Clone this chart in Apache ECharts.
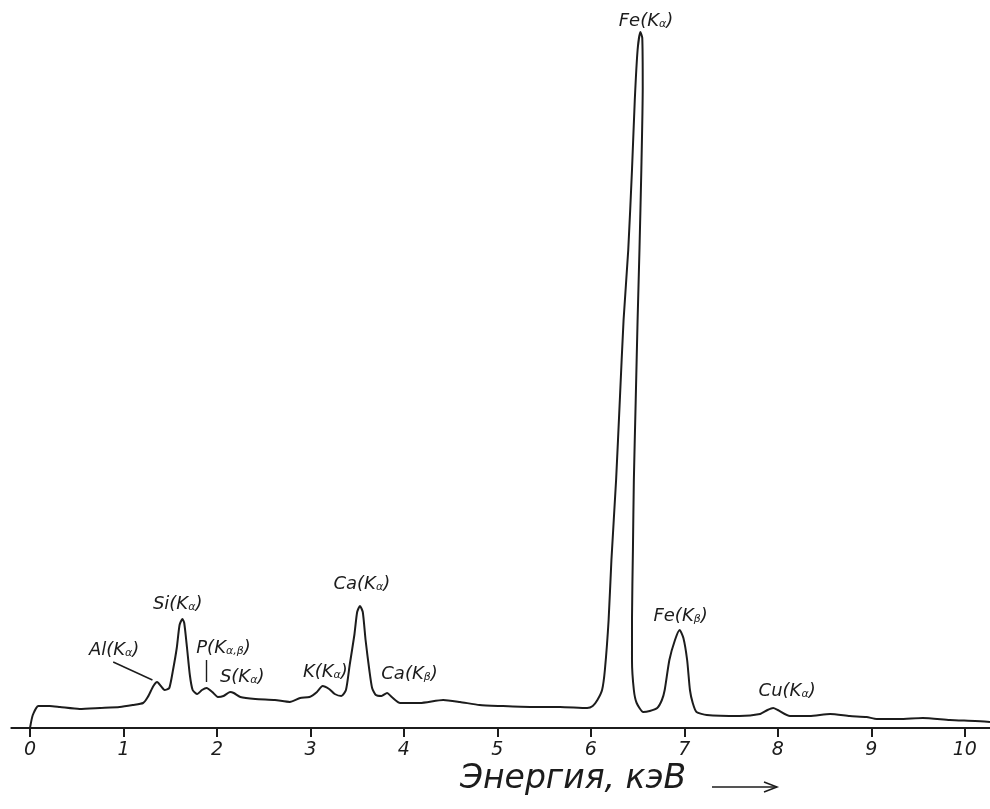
<!DOCTYPE html>
<html>
<head>
<meta charset="utf-8">
<script src="https://cdn.jsdelivr.net/npm/echarts@6/dist/echarts.min.js"></script>
<style>html,body{margin:0;padding:0;background:#fff}#c{width:990px;height:809px}</style>
</head>
<body>
<div id="c"></div>
<script>
// Energy (keV) and intensity (arbitrary units)
const energy = [0.00,0.03,0.09,0.21,0.32,0.53,0.75,0.96,1.10,1.21,1.26,1.32,1.36,1.40,1.44,1.49,1.53,1.57,1.60,1.63,1.65,1.68,1.71,1.74,1.79,1.84,1.89,1.95,2.01,2.07,2.14,2.18,2.25,2.41,2.62,2.78,2.89,2.99,3.07,3.13,3.20,3.26,3.33,3.38,3.42,3.47,3.50,3.53,3.56,3.59,3.63,3.66,3.70,3.76,3.82,3.87,3.96,4.17,4.42,4.60,4.81,5.03,5.35,5.67,5.96,6.02,6.07,6.12,6.15,6.19,6.22,6.27,6.31,6.35,6.40,6.44,6.47,6.50,6.53,6.55,6.555,6.54,6.52,6.50,6.48,6.46,6.45,6.44,6.44,6.46,6.49,6.56,6.63,6.71,6.76,6.79,6.84,6.90,6.95,6.99,7.03,7.06,7.09,7.13,7.24,7.59,7.81,7.89,7.95,8.00,8.13,8.34,8.56,8.77,8.95,9.06,9.30,9.55,9.84,10.11,10.27];
const counts = [0,13,22,22,21,19,20,21,23,25,31,42,46,42,38,40,58,80,103,109,105,80,53,38,34,38,40,36,31,32,36,35,31,29,28,26,30,31,36,42,39,34,32,38,63,93,116,122,116,88,58,40,33,32,35,31,25,25,28,26,23,22,21,21,20,22,28,38,58,108,168,248,328,408,478,558,628,678,696,690,640,558,478,408,328,248,178,108,68,38,25,16,17,20,28,38,68,88,98,90,68,38,25,16,13,12,14,18,20,18,12,12,14,12,11,9,9,10,8,7,6];

// Tick labels of the energy axis
const tickValues = [0,1,2,3,4,5,6,7,8,9,10];

// Peak annotations: element line, label anchor energy and height
const peakNames   = ['Fe(K{s|α})','Si(K{s|α})','Al(K{s|α})','P(K{s|α,β})','S(K{s|α})','K(K{s|α})','Ca(K{s|α})','Ca(K{s|β})','Fe(K{s|β})','Cu(K{s|α})'];
const peakEnergy  = [6.59,1.58,0.90,2.07,2.27,3.16,3.55,4.06,6.96,8.10];
const peakLabelY  = [707,124,78,80,51,56,144,54,112,37];

// Leader lines (Al and P)
const leaders = [[[0.89,66],[1.31,48]],[[1.89,68],[1.89,46]]];

const ink = '#1c1c1c';
const chart = echarts.init(document.getElementById('c'), null, {renderer:'canvas'});

chart.setOption({
  backgroundColor:'#ffffff',
  animation:false,
  grid:{left:11.3, right:0, top:28, bottom:81, containLabel:false},
  xAxis:{
    type:'value', min:-0.2, max:10.27,
    axisLine:{show:true, onZero:false, lineStyle:{color:ink, width:2}},
    axisTick:{show:true, customValues:tickValues, length:9, lineStyle:{color:ink, width:2}},
    axisLabel:{show:true, customValues:tickValues, margin:13, color:ink, fontSize:19, fontStyle:'italic', fontFamily:'DejaVu Sans'},
    splitLine:{show:false}
  },
  yAxis:{type:'value', min:0, max:700, show:false, splitLine:{show:false}},
  series:[
    {
      type:'line', data:energy.map((e,i)=>[e,counts[i]]),
      showSymbol:false, smooth:0.2, clip:false,
      lineStyle:{color:ink, width:2},
      markLine:{
        silent:true, symbol:['none','none'],
        label:{show:false},
        lineStyle:{color:ink, width:1.4, type:'solid'},
        data:leaders.map(l=>[{coord:l[0]},{coord:l[1]}])
      }
    },
    {
      type:'custom', clip:false, silent:true,
      data:peakEnergy.map((e,i)=>[e,peakLabelY[i],i]),
      renderItem:(params, api)=>{
        const p = api.coord([api.value(0), api.value(1)]);
        const i = api.value(2);
        return {
          type:'text', x:p[0], y:p[1],
          style:{
            text:peakNames[i], fill:ink, align:'center', verticalAlign:'middle',
            font:'italic 18px "DejaVu Sans"',
            rich:{s:{font:'italic 11px "DejaVu Sans"', fill:ink, verticalAlign:'bottom', padding:[6,0,0,0]}}
          }
        };
      }
    }
  ],
  graphic:[
    {type:'text', left:460, top:763, style:{text:'Энергия, кэВ', font:'italic 33px "DejaVu Sans"', fill:ink}},
    {type:'polyline', shape:{points:[[712,787],[777,787]]}, style:{stroke:ink, lineWidth:1.5}},
    {type:'polyline', shape:{points:[[764,782],[777,787],[764,792]]}, style:{stroke:ink, lineWidth:1.5, fill:null}}
  ]
});
</script>
</body>
</html>
